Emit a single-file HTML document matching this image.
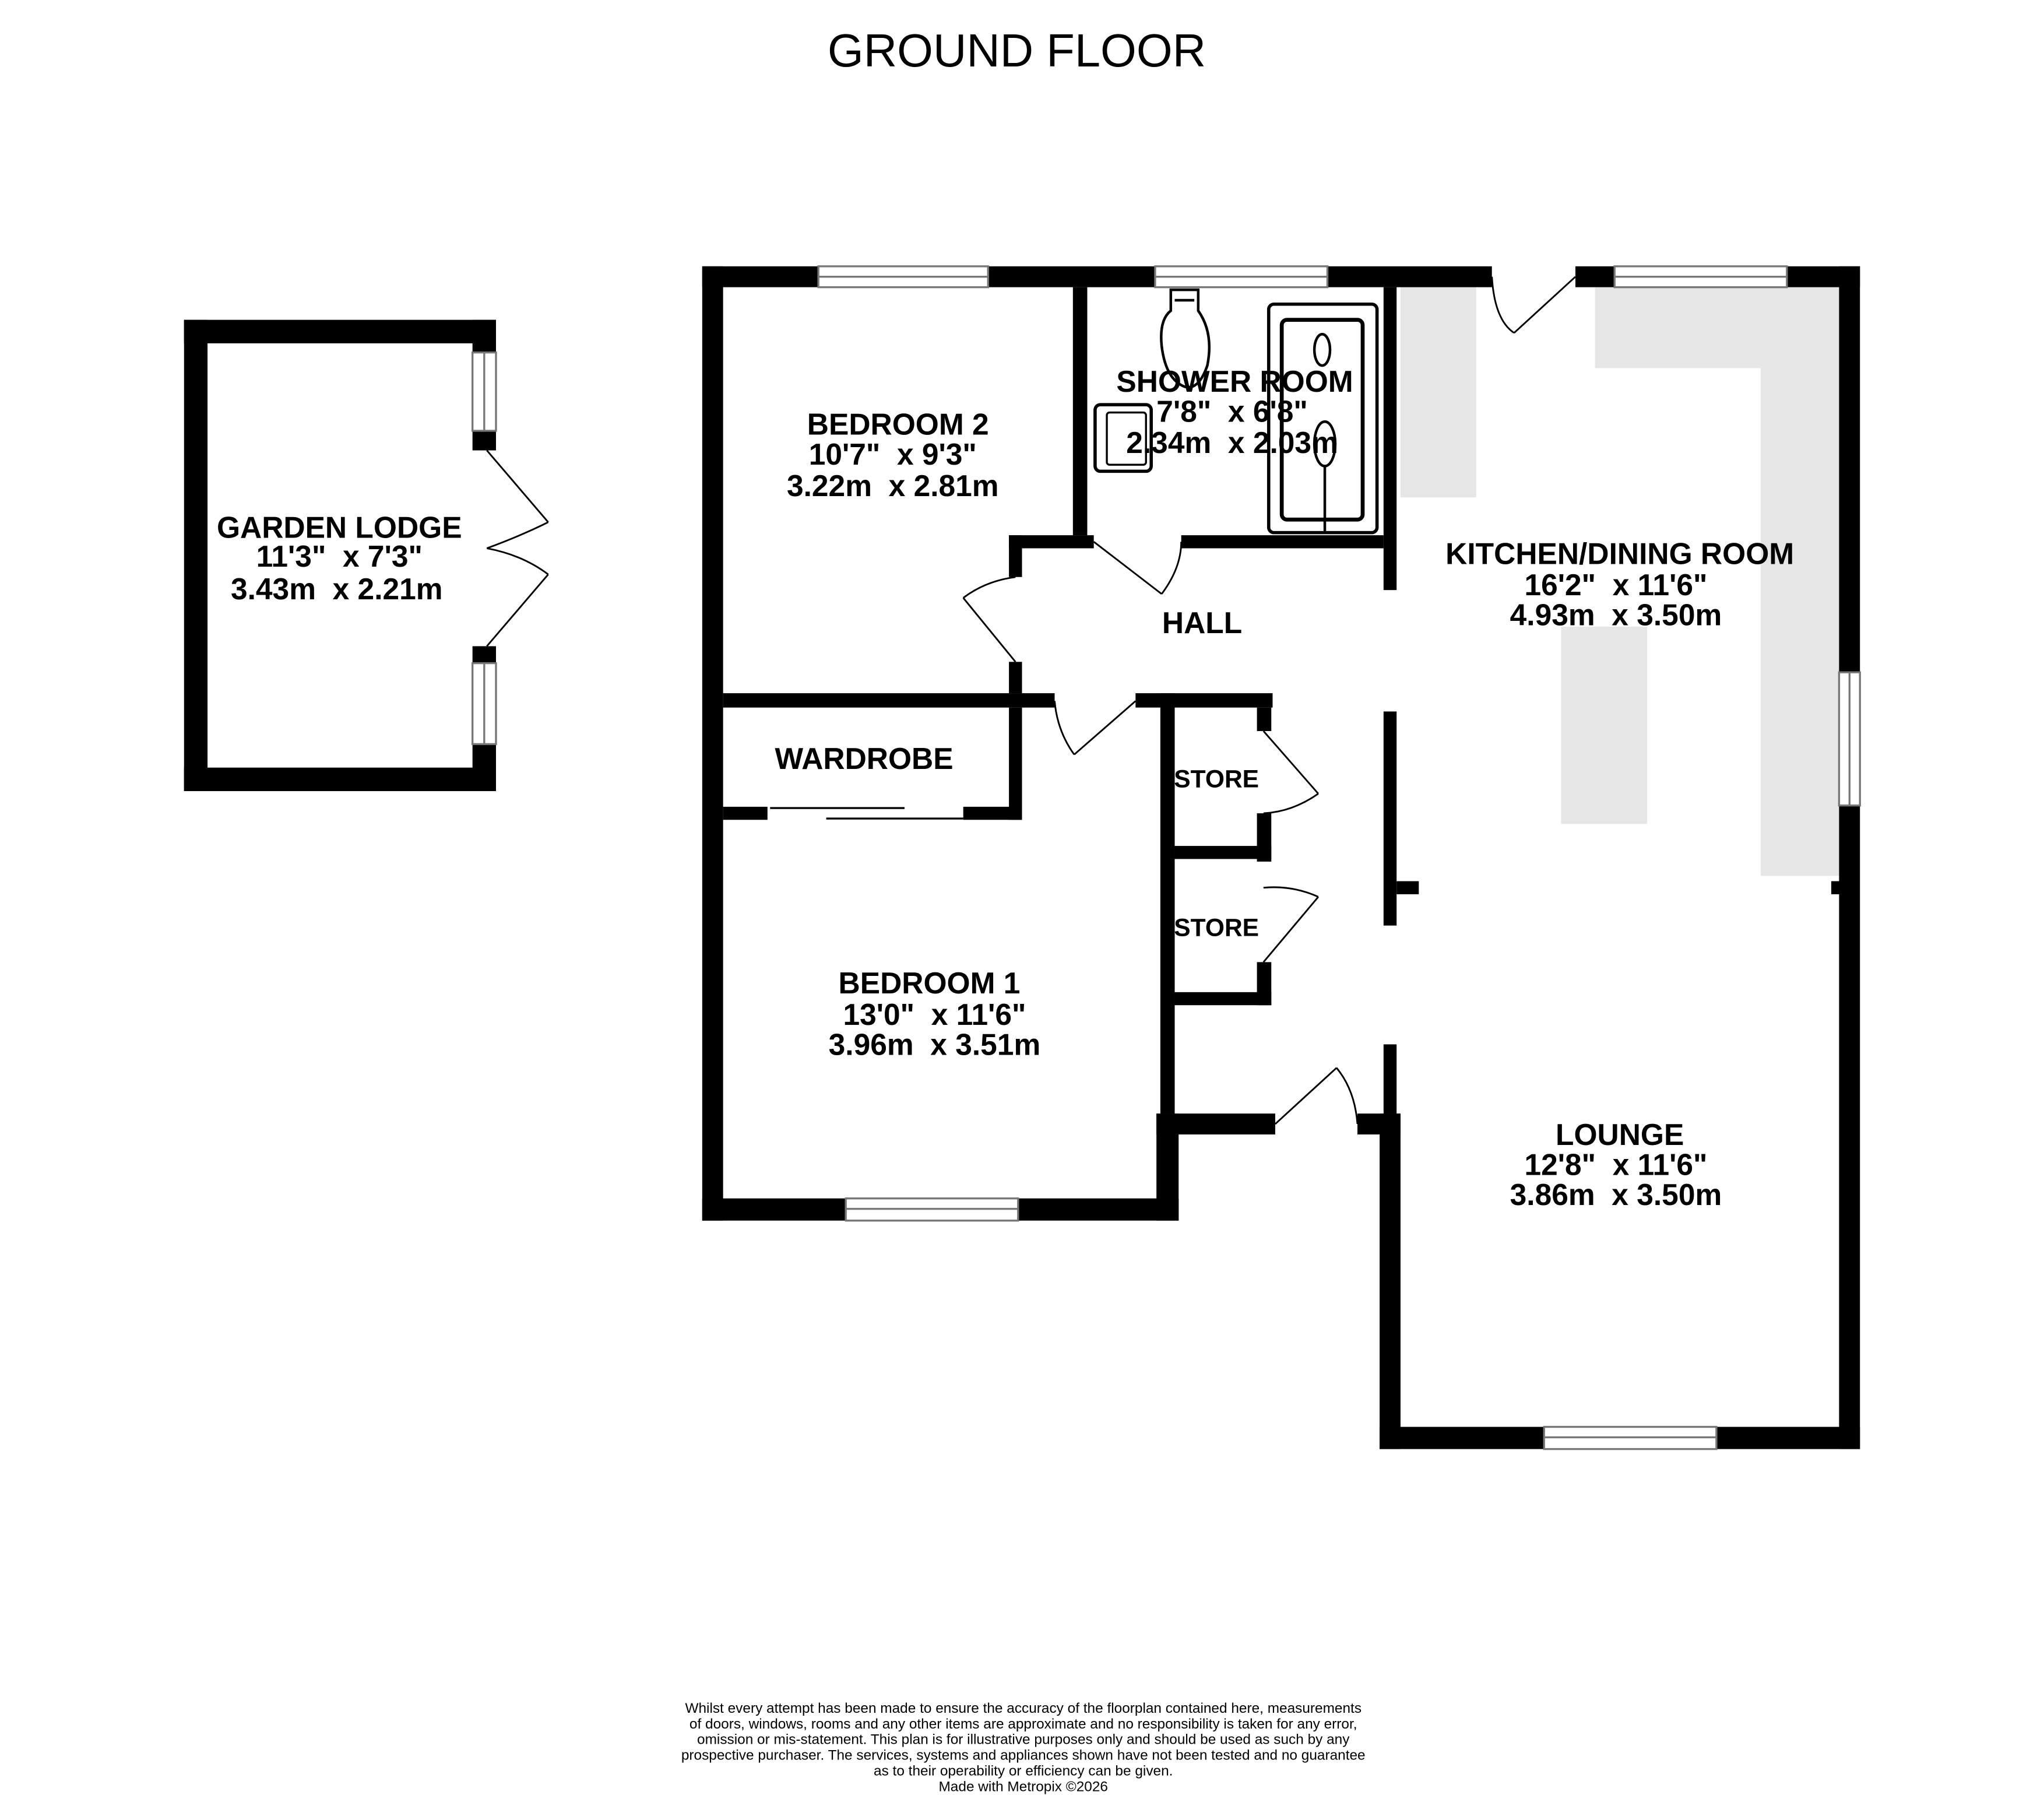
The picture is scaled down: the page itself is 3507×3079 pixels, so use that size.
<!DOCTYPE html>
<html><head><meta charset="utf-8"><style>html,body{margin:0;padding:0;background:#fff}svg{display:block}</style></head>
<body>
<svg width="3507" height="3079" viewBox="0 0 1566 1375" preserveAspectRatio="none" xmlns="http://www.w3.org/2000/svg" font-family="Liberation Sans, Arial, sans-serif">
<rect width="1566" height="1375" fill="#fff"/>
<text x="779" y="51" font-size="35.5" text-anchor="middle">GROUND FLOOR</text>
<g fill="#e6e6e6">
<rect x="1073" y="220" width="58" height="161"/>
<rect x="1222" y="220" width="187" height="62"/>
<rect x="1349" y="282" width="60" height="389"/>
<rect x="1196" y="480" width="66" height="151"/>
</g>
<g fill="#000">
<rect x="141" y="245" width="239" height="18"/>
<rect x="141" y="588" width="239" height="18"/>
<rect x="141" y="245" width="18" height="361"/>
<rect x="362" y="245" width="18" height="25"/>
<rect x="362" y="330" width="18" height="15"/>
<rect x="362" y="495" width="18" height="13"/>
<rect x="362" y="570" width="18" height="36"/>
<rect x="538" y="204" width="89" height="16"/>
<rect x="757" y="204" width="128" height="16"/>
<rect x="1017" y="204" width="126" height="16"/>
<rect x="1207" y="204" width="30" height="16"/>
<rect x="1369" y="204" width="56" height="16"/>
<rect x="538" y="204" width="16" height="731"/>
<rect x="538" y="918" width="110" height="17"/>
<rect x="780" y="918" width="123" height="17"/>
<rect x="1409" y="204" width="16" height="311"/>
<rect x="1409" y="617" width="16" height="493"/>
<rect x="1403" y="675" width="8" height="10"/>
<rect x="1057" y="1093" width="126" height="17"/>
<rect x="1315" y="1093" width="110" height="17"/>
<rect x="1057" y="853" width="16" height="257"/>
<rect x="889" y="531" width="11" height="322"/>
<rect x="886" y="853" width="17" height="82"/>
<rect x="886" y="853" width="91" height="16"/>
<rect x="1040" y="853" width="33" height="16"/>
<rect x="1060" y="220" width="10" height="232"/>
<rect x="1060" y="545" width="10" height="164"/>
<rect x="1070" y="675" width="17" height="10"/>
<rect x="1060" y="800" width="10" height="53"/>
<rect x="822" y="220" width="11" height="190"/>
<rect x="773" y="410" width="65" height="10"/>
<rect x="905" y="410" width="155" height="10"/>
<rect x="773" y="410" width="10" height="32"/>
<rect x="773" y="507" width="10" height="24"/>
<rect x="554" y="531" width="254" height="11"/>
<rect x="870" y="531" width="105" height="11"/>
<rect x="773" y="542" width="10" height="86"/>
<rect x="554" y="618" width="34" height="10"/>
<rect x="738" y="618" width="45" height="10"/>
<rect x="963" y="542" width="11" height="18"/>
<rect x="963" y="623" width="11" height="37"/>
<rect x="900" y="648" width="74" height="10"/>
<rect x="963" y="737" width="11" height="33"/>
<rect x="900" y="760" width="74" height="10"/>
</g>
<g fill="#fff" stroke="#777" stroke-width="1.5">
<rect x="627" y="204" width="130" height="16"/><line x1="627" y1="212" x2="757" y2="212"/>
<rect x="885" y="204" width="132" height="16"/><line x1="885" y1="212" x2="1017" y2="212"/>
<rect x="1237" y="204" width="132" height="16"/><line x1="1237" y1="212" x2="1369" y2="212"/>
<rect x="648" y="918" width="132" height="17"/><line x1="648" y1="926" x2="780" y2="926"/>
<rect x="1183" y="1093" width="132" height="17"/><line x1="1183" y1="1101" x2="1315" y2="1101"/>
<rect x="1409" y="515" width="16" height="102"/><line x1="1417" y1="515" x2="1417" y2="617"/>
<rect x="362" y="270" width="18" height="60"/><line x1="371" y1="270" x2="371" y2="330"/>
<rect x="362" y="508" width="18" height="62"/><line x1="371" y1="508" x2="371" y2="570"/>
</g>
<g stroke="#000" stroke-width="1.5" fill="none">
<line x1="590" y1="619" x2="693" y2="619"/>
<line x1="633" y1="627" x2="738" y2="627"/>
</g>
<g stroke="#000" stroke-width="1.3" fill="none">
<line x1="1207" y1="212" x2="1160" y2="255"/><path d="M1143 212 Q1145 245 1160 255"/>
<line x1="373" y1="345" x2="420" y2="400"/><path d="M420 400 Q400 410 373 420"/>
<line x1="373" y1="495" x2="420" y2="440"/><path d="M420 440 Q400 425 373 420"/>
<line x1="838" y1="415" x2="890" y2="455"/><path d="M890 455 Q905 435 905 415"/>
<line x1="778" y1="507" x2="738" y2="458"/><path d="M738 458 Q755 445 778 442"/>
<line x1="870" y1="537" x2="823" y2="578"/><path d="M823 578 Q810 560 808 537"/>
<line x1="968" y1="560" x2="1010" y2="608"/><path d="M1010 608 Q990 622 968 623"/>
<line x1="968" y1="737" x2="1010" y2="687"/><path d="M1010 687 Q990 678 968 680"/>
<line x1="977" y1="861" x2="1024" y2="818"/><path d="M1024 818 Q1038 835 1040 861"/>
</g>
<g stroke="#000" fill="none" stroke-width="2">
<path d="M897 222 L918 222 L918 238 Q930 255 925 280 Q918 300 907 296 Q893 290 890 265 Q888 245 897 238 Z"/>
<line x1="900" y1="230" x2="915" y2="230"/>
<rect x="972" y="233" width="83" height="175" rx="4" stroke-width="2.5"/>
<rect x="982" y="245" width="62" height="153" rx="4" stroke-width="3"/>
<ellipse cx="1013" cy="268" rx="6" ry="12"/>
<ellipse cx="1015" cy="340" rx="8" ry="17"/>
<line x1="1015" y1="357" x2="1015" y2="407"/>
<rect x="839" y="310" width="43" height="51" rx="4" stroke-width="2.5"/>
<rect x="848" y="316" width="30" height="40" rx="2" stroke-width="1.5"/>
</g>
<g font-weight="bold" font-size="23" text-anchor="middle">
<text x="260" y="412">GARDEN LODGE</text><text x="260" y="434">11'3"&#160; x 7'3"</text><text x="258" y="459">3.43m&#160; x 2.21m</text>
<text x="688" y="333">BEDROOM 2</text><text x="684" y="356">10'7"&#160; x 9'3"</text><text x="684" y="380">3.22m&#160; x 2.81m</text>
<text x="946" y="300">SHOWER ROOM</text><text x="944" y="323">7'8"&#160; x 6'8"</text><text x="944" y="347">2.34m&#160; x 2.03m</text>
<text x="1241" y="432">KITCHEN/DINING ROOM</text><text x="1238" y="456">16'2"&#160; x 11'6"</text><text x="1238" y="479">4.93m&#160; x 3.50m</text>
<text x="921" y="485">HALL</text>
<text x="662" y="589">WARDROBE</text>
<text x="932" y="603" font-size="19">STORE</text>
<text x="932" y="717" font-size="19">STORE</text>
<text x="712" y="761">BEDROOM 1</text><text x="716" y="785">13'0"&#160; x 11'6"</text><text x="716" y="808">3.96m&#160; x 3.51m</text>
<text x="1241" y="877">LOUNGE</text><text x="1238" y="900">12'8"&#160; x 11'6"</text><text x="1238" y="923">3.86m&#160; x 3.50m</text>
</g>
<g font-size="10.9" text-anchor="middle">
<text x="784" y="1312">Whilst every attempt has been made to ensure the accuracy of the floorplan contained here, measurements</text>
<text x="784" y="1324">of doors, windows, rooms and any other items are approximate and no responsibility is taken for any error,</text>
<text x="784" y="1336">omission or mis-statement. This plan is for illustrative purposes only and should be used as such by any</text>
<text x="784" y="1348">prospective purchaser. The services, systems and appliances shown have not been tested and no guarantee</text>
<text x="784" y="1360">as to their operability or efficiency can be given.</text>
<text x="784" y="1372">Made with Metropix ©2026</text>
</g>
</svg>
</body></html>
